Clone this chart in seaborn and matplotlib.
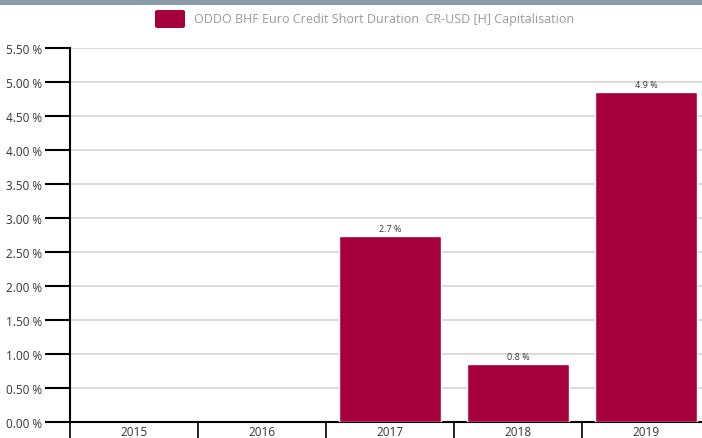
import matplotlib
matplotlib.use("Agg")
import matplotlib.pyplot as plt
import seaborn as sns
import numpy as np
import pandas as pd
from matplotlib.patches import FancyBboxPatch, Rectangle
from matplotlib.ticker import FixedLocator

years = ["2015", "2016", "2017", "2018", "2019"]
perf = [np.nan, np.nan, 2.74, 0.85, 4.86]
perf_labels = ["", "", "2.7 %", "0.8 %", "4.9 %"]
yticks = [0.0, 0.5, 1.0, 1.5, 2.0, 2.5, 3.0, 3.5, 4.0, 4.5, 5.0, 5.5]
series_name = "ODDO BHF Euro Credit Short Duration  CR-USD [H] Capitalisation"

df = pd.DataFrame({"year": years, "perf": perf})

bar_color = "#a5003c"
sns.set_style("white")
plt.rcParams["font.family"] = ["Open Sans", "DejaVu Sans"]

fig = plt.figure(figsize=(7.02, 4.39), dpi=100)
W, H = 702, 439
ax = fig.add_axes([70 / W, (H - 423) / H, 640 / W, 374 / H])

sns.barplot(data=df, x="year", y="perf", color=bar_color, width=0.79,
            saturation=1, ax=ax, zorder=3)

ax.set_xlim(-0.5, 4.5)
ax.set_ylim(0, 5.5)
ax.set_yticks(yticks)
ax.set_yticklabels([f"{v:.2f} %" for v in yticks], fontsize=8.5, color="#333333")
for v in yticks[1:]:
    ax.axhline(v, color="#d3d3d3", lw=1.2, zorder=1)

ax.tick_params(axis="y", left=True, length=18, width=1.5, color="black", pad=2)
ax.tick_params(axis="x", which="major", bottom=True, length=0, pad=2,
               labelsize=8.5, labelcolor="#333333")
ax.xaxis.set_minor_locator(FixedLocator(np.arange(-0.5, 5, 1.0)))
ax.tick_params(axis="x", which="minor", bottom=True, length=18, width=1.2,
               color="black", direction="out")
ax.set_xlabel("")
ax.set_ylabel("")

for s in ["top", "right"]:
    ax.spines[s].set_visible(False)
ax.spines["left"].set_linewidth(1.5)
ax.spines["bottom"].set_linewidth(1.5)
ax.spines["left"].set_color("black")
ax.spines["bottom"].set_color("black")

for i, (v, lab) in enumerate(zip(perf, perf_labels)):
    if lab:
        ax.text(i, v + 0.04, lab, ha="center", va="bottom", fontsize=6.5, color="#333333")

# top band
fig.patches.append(Rectangle((0, (H - 6) / H), 1, 6 / H, transform=fig.transFigure,
                             facecolor="#8a9ba8", edgecolor="none"))
# legend
fig.patches.append(FancyBboxPatch((155 / W, (H - 29) / H), 30 / W, 18 / H,
                                  boxstyle="round,pad=0,rounding_size=0.004",
                                  transform=fig.transFigure, facecolor=bar_color,
                                  edgecolor="none"))
fig.text(194 / W, (H - 19) / H, series_name, ha="left", va="center",
         fontsize=9, color="#9a9a9a")

fig.savefig("out.png", dpi=100)
